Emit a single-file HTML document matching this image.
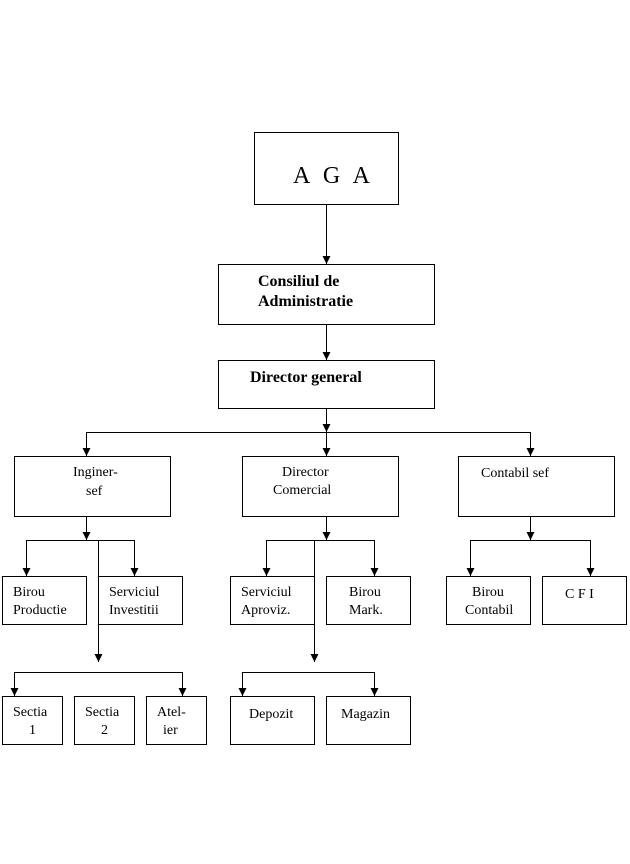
<!DOCTYPE html>
<html><head><meta charset="utf-8"><style>
html,body{margin:0;padding:0;background:#fff;}
svg{display:block;}
text{font-family:"Liberation Serif",serif;font-size:14px;fill:#000;}
</style></head><body>
<svg width="630" height="864" viewBox="0 0 630 864" xmlns="http://www.w3.org/2000/svg">
<defs><marker id="a" markerWidth="8" markerHeight="8" refX="8" refY="4" orient="auto" markerUnits="userSpaceOnUse" viewBox="0 0 8 8"><path d="M0,0 L8,4 L0,8 z" fill="#000"/></marker></defs>
<g fill="#fff" stroke="#000" stroke-width="1">
<rect x="254.5" y="132.5" width="144" height="72"/>
<rect x="218.5" y="264.5" width="216" height="60"/>
<rect x="218.5" y="360.5" width="216" height="48"/>
<rect x="14.5" y="456.5" width="156" height="60"/>
<rect x="242.5" y="456.5" width="156" height="60"/>
<rect x="458.5" y="456.5" width="156" height="60"/>
<rect x="2.5" y="576.5" width="84" height="48"/>
<rect x="98.5" y="576.5" width="84" height="48"/>
<rect x="230.5" y="576.5" width="84" height="48"/>
<rect x="326.5" y="576.5" width="84" height="48"/>
<rect x="446.5" y="576.5" width="84" height="48"/>
<rect x="542.5" y="576.5" width="84" height="48"/>
<rect x="2.5" y="696.5" width="60" height="48"/>
<rect x="74.5" y="696.5" width="60" height="48"/>
<rect x="146.5" y="696.5" width="60" height="48"/>
<rect x="230.5" y="696.5" width="84" height="48"/>
<rect x="326.5" y="696.5" width="84" height="48"/>
</g>
<g fill="none" stroke="#000" stroke-width="1">
<path d="M326.5,204 V264" marker-end="url(#a)"/>
<path d="M326.5,324 V360" marker-end="url(#a)"/>
<path d="M326.5,408 V432" marker-end="url(#a)"/>
<path d="M86.5,432.5 H530.5"/>
<path d="M86.5,432 V456" marker-end="url(#a)"/>
<path d="M326.5,432 V456" marker-end="url(#a)"/>
<path d="M530.5,432 V456" marker-end="url(#a)"/>
<path d="M86.5,516 V540" marker-end="url(#a)"/>
<path d="M26.5,540.5 H134.5"/>
<path d="M26.5,540 V576" marker-end="url(#a)"/>
<path d="M134.5,540 V576" marker-end="url(#a)"/>
<path d="M98.5,540 V662" marker-end="url(#a)"/>
<path d="M14.5,672.5 H182.5"/>
<path d="M14.5,672 V696" marker-end="url(#a)"/>
<path d="M182.5,672 V696" marker-end="url(#a)"/>
<path d="M326.5,516 V540" marker-end="url(#a)"/>
<path d="M266.5,540.5 H374.5"/>
<path d="M266.5,540 V576" marker-end="url(#a)"/>
<path d="M374.5,540 V576" marker-end="url(#a)"/>
<path d="M314.5,540 V662" marker-end="url(#a)"/>
<path d="M242.5,672.5 H374.5"/>
<path d="M242.5,672 V696" marker-end="url(#a)"/>
<path d="M374.5,672 V696" marker-end="url(#a)"/>
<path d="M530.5,516 V540" marker-end="url(#a)"/>
<path d="M470.5,540.5 H590.5"/>
<path d="M470.5,540 V576" marker-end="url(#a)"/>
<path d="M590.5,540 V576" marker-end="url(#a)"/>
</g>
<text x="293" y="183" style="font-size:24px" textLength="77">A G A</text>
<text x="258" y="286" style="font-size:16px;font-weight:bold">Consiliul de</text>
<text x="258" y="306" style="font-size:16px;font-weight:bold">Administratie</text>
<text x="250" y="382" style="font-size:16px;font-weight:bold">Director general</text>
<text x="73" y="476">Inginer-</text>
<text x="86" y="495">sef</text>
<text x="282" y="476">Director</text>
<text x="273" y="494">Comercial</text>
<text x="481" y="477">Contabil sef</text>
<text x="13" y="596">Birou</text>
<text x="13" y="614">Productie</text>
<text x="109" y="596">Serviciul</text>
<text x="109" y="614">Investitii</text>
<text x="241" y="596">Serviciul</text>
<text x="241" y="614">Aproviz.</text>
<text x="349" y="596">Birou</text>
<text x="349" y="614">Mark.</text>
<text x="472" y="596">Birou</text>
<text x="465" y="614">Contabil</text>
<text x="565" y="598">C F I</text>
<text x="13" y="716">Sectia</text>
<text x="29" y="734">1</text>
<text x="85" y="716">Sectia</text>
<text x="101" y="734">2</text>
<text x="157" y="716">Atel-</text>
<text x="163" y="734">ier</text>
<text x="249" y="718">Depozit</text>
<text x="341" y="718">Magazin</text>
</svg>
</body></html>
